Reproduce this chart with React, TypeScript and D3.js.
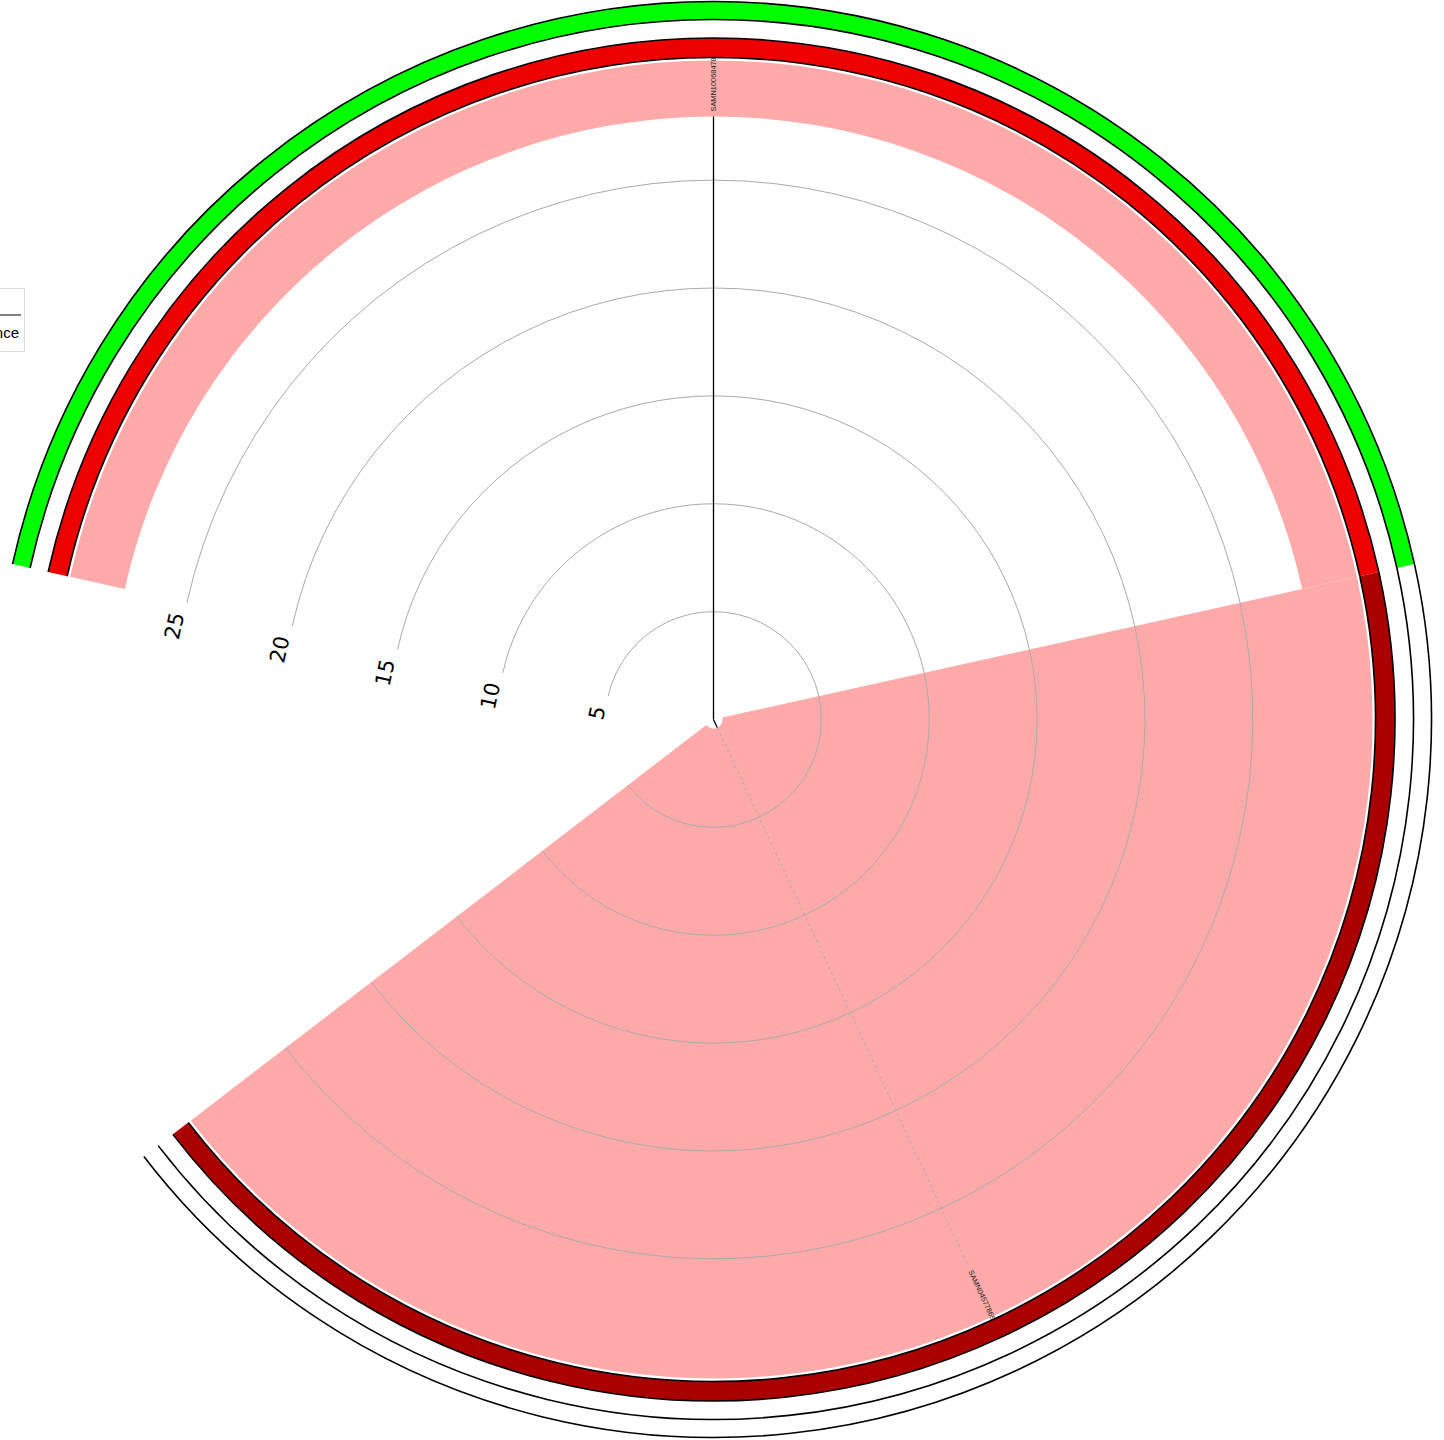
import React from "react";
import * as d3 from "d3";

// ---- data ----
const samples = ["SAMN10068478", "SAMN04577865"];
const branchLengths = [27.95, 0.42]; // in tree units (same units as ticks)
const backgroundColors = ["#FFAAAA", "#FFAAAA"];
const ringAColors = ["#EE0000", "#AA0000"];
const ringBColors = ["#00FF00", "none"];
const tickValues = [5, 10, 15, 20, 25];
const legendLabels = ["Abundance"];

// ---- layout ----
const W = 1444;
const H = 1440;
const CX = 713.5;
const CY = 719.5;
const TREE_MAX = 27.95;
const TREE_R = 603;
const BG_OUT = 659;
const RING_A = [662, 681.5];
const RING_B = [700, 718];
const START_DEG = -77.5;
const TOTAL_DEG = 310;

const rad = (d: number) => (d * Math.PI) / 180;

export default function App() {
  const r = d3.scaleLinear().domain([0, TREE_MAX]).range([0, TREE_R]);
  const sectorDeg = TOTAL_DEG / samples.length;
  const angle = d3
    .scaleLinear()
    .domain([0, samples.length])
    .range([START_DEG, START_DEG + TOTAL_DEG]);

  const arc = d3.arc<any>();
  const arcLine = (radius: number, a0: number, a1: number) => {
    const p = d3.path();
    p.arc(0, 0, radius, rad(a0) - Math.PI / 2, rad(a1) - Math.PI / 2, false);
    return p.toString();
  };
  const polar = (radius: number, aDeg: number) => [
    radius * Math.sin(rad(aDeg)),
    -radius * Math.cos(rad(aDeg)),
  ];

  const endDeg = START_DEG + TOTAL_DEG;

  return (
    <div style={{ position: "absolute", left: 0, top: 0 }}>
      <svg width={W} height={H} style={{ display: "block", background: "#fff" }}>
        <g transform={`translate(${CX},${CY})`}>
          {/* backgrounds */}
          {samples.map((s, i) => (
            <path
              key={"bg" + s}
              d={
                arc({
                  innerRadius: r(branchLengths[i]),
                  outerRadius: BG_OUT,
                  startAngle: rad(angle(i)),
                  endAngle: rad(angle(i + 1)),
                }) as string
              }
              fill={backgroundColors[i]}
            />
          ))}
          {/* grid circles */}
          {tickValues.map((v) => (
            <path
              key={"grid" + v}
              d={arcLine(r(v), START_DEG, endDeg)}
              fill="none"
              stroke="#aaaaaa"
              strokeWidth={1}
            />
          ))}
          {/* tick labels */}
          {tickValues.map((v) => (
            <text
              key={"tl" + v}
              transform={`rotate(${START_DEG})`}
              x={-12}
              y={-(r(v) + 7)}
              textAnchor="end"
              dominantBaseline="central"
              fontFamily="DejaVu Sans, sans-serif"
              fontSize={21}
              fill="#000"
            >
              {v}
            </text>
          ))}
          {/* ring A */}
          {samples.map((s, i) => {
            const a0 = angle(i);
            const a1 = angle(i + 1);
            return (
              <g key={"ra" + s}>
                <path
                  d={
                    arc({
                      innerRadius: RING_A[0],
                      outerRadius: RING_A[1],
                      startAngle: rad(a0),
                      endAngle: rad(a1),
                    }) as string
                  }
                  fill={ringAColors[i]}
                />
                <path d={arcLine(RING_A[0], a0, a1)} fill="none" stroke="#000" strokeWidth={1.6} />
                <path d={arcLine(RING_A[1], a0, a1)} fill="none" stroke="#000" strokeWidth={1.6} />
              </g>
            );
          })}
          {/* ring B */}
          {samples.map((s, i) => {
            const a0 = angle(i);
            const a1 = angle(i + 1);
            return (
              <g key={"rb" + s}>
                <path
                  d={
                    arc({
                      innerRadius: RING_B[0],
                      outerRadius: RING_B[1],
                      startAngle: rad(a0),
                      endAngle: rad(a1),
                    }) as string
                  }
                  fill={ringBColors[i]}
                />
                <path d={arcLine(RING_B[0], a0, a1)} fill="none" stroke="#000" strokeWidth={1.6} />
                <path d={arcLine(RING_B[1], a0, a1)} fill="none" stroke="#000" strokeWidth={1.6} />
              </g>
            );
          })}
          {/* tree branches */}
          {samples.map((s, i) => {
            const a = angle(i + 0.5);
            const [x1, y1] = polar(r(branchLengths[i]), a);
            const [x2, y2] = polar(TREE_R, a);
            return (
              <g key={"br" + s}>
                <line x1={0} y1={0} x2={x1} y2={y1} stroke="#000" strokeWidth={1.3} />
                {branchLengths[i] < TREE_MAX && (
                  <line
                    x1={x1}
                    y1={y1}
                    x2={x2}
                    y2={y2}
                    stroke="#aaaaaa"
                    strokeWidth={1}
                    strokeDasharray="3,3"
                  />
                )}
              </g>
            );
          })}
          {/* leaf labels */}
          {samples.map((s, i) => {
            const a = angle(i + 0.5);
            return (
              <text
                key={"ll" + s}
                transform={`rotate(${a - 90})`}
                x={TREE_R + 5}
                y={0}
                dominantBaseline="central"
                fontFamily="Liberation Sans, Arial, sans-serif"
                fontSize={7.4}
                fill="#222"
              >
                {s}
              </text>
            );
          })}
        </g>
        {/* legend (mostly off-canvas) */}
        <g>
          <rect x={-200} y={288.5} width={224.5} height={63} fill="#fff" stroke="#dddddd" strokeWidth={1} />
          <line x1={-190} y1={315} x2={21} y2={315} stroke="#000" strokeWidth={1} />
          {legendLabels.map((l, i) => (
            <text
              key={l}
              x={19}
              y={338 + i * 20}
              textAnchor="end"
              fontFamily="Liberation Sans, Arial, sans-serif"
              fontSize={15}
              fill="#000"
            >
              {l}
            </text>
          ))}
        </g>
      </svg>
    </div>
  );
}
